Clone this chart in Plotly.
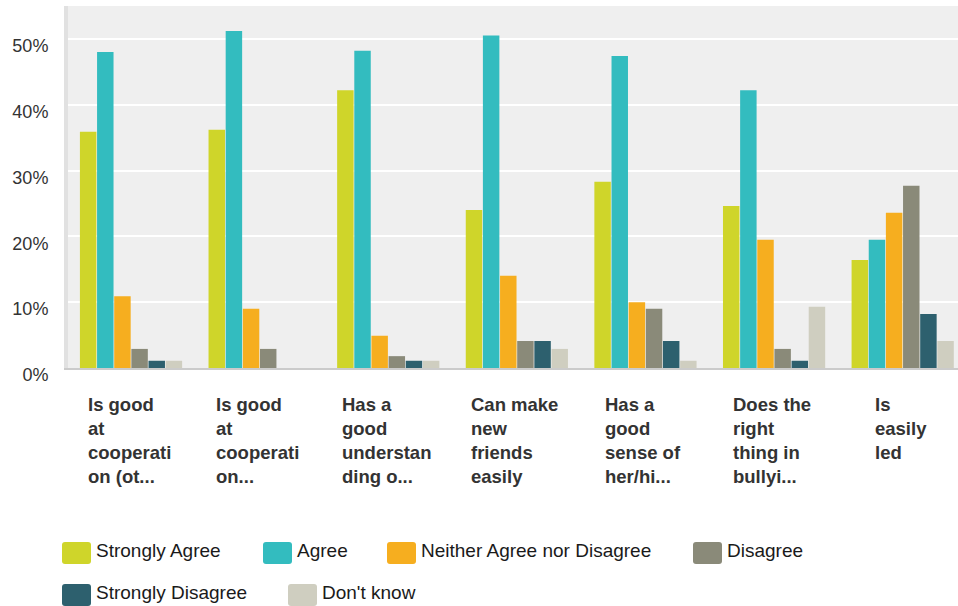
import plotly.graph_objects as go

# ---------------- data ----------------
categories = [
    "Is good at cooperation (ot...",
    "Is good at cooperation...",
    "Has a good understanding o...",
    "Can make new friends easily",
    "Has a good sense of her/hi...",
    "Does the right thing in bullyi...",
    "Is easily led",
]
category_labels = [
    "Is good<br>at<br>cooperati<br>on (ot...",
    "Is good<br>at<br>cooperati<br>on...",
    "Has a<br>good<br>understan<br>ding o...",
    "Can make<br>new<br>friends<br>easily",
    "Has a<br>good<br>sense of<br>her/hi...",
    "Does the<br>right<br>thing in<br>bullyi...",
    "Is<br>easily<br>led",
]
series_names = ["Strongly Agree", "Agree", "Neither Agree nor Disagree",
                "Disagree", "Strongly Disagree", "Don't know"]
strongly_agree = [35.9, 36.2, 42.2, 24.0, 28.3, 24.6, 16.4]
agree = [48.0, 51.2, 48.2, 50.5, 47.4, 42.2, 19.5]
neither = [10.9, 9.0, 4.9, 14.0, 10.0, 19.5, 23.6]
disagree = [2.9, 2.9, 1.8, 4.1, 9.0, 2.9, 27.7]
strongly_disagree = [1.1, 0.0, 1.1, 4.1, 4.1, 1.1, 8.2]
dont_know = [1.1, 0.0, 1.1, 2.9, 1.1, 9.3, 4.1]
y_tick_values = [0, 10, 20, 30, 40, 50]
y_tick_labels = ["0%", "10%", "20%", "30%", "40%", "50%"]

# ---------------- styles ----------------
colors = ["#CFD52A", "#33BCBF", "#F6AE1F", "#8A8A79", "#2D606E", "#CFCEC0"]
FONT = "Liberation Sans, Arial, sans-serif"
W, H = 958, 606
ML, MR, MT, MB = 68, 0, 6, 238
PW, PH = W - ML - MR, H - MT - MB

series_values = [strongly_agree, agree, neither, disagree, strongly_disagree, dont_know]

fig = go.Figure()
for name, vals, col in zip(series_names, series_values, colors):
    fig.add_trace(go.Bar(
        x=categories, y=vals, name=name,
        marker=dict(color=col, line=dict(width=0)),
        showlegend=False,
        hovertemplate="%{x}<br>" + name + ": %{y}%<extra></extra>",
    ))

annotations = []
# category labels (multi-line, left aligned, centred under each group)
for cat, lab in zip(categories, category_labels):
    annotations.append(dict(
        x=cat, xref="x", y=0, yref="paper", yanchor="top", xanchor="center",
        yshift=-24, xshift=-2, align="left", showarrow=False, text=lab,
        font=dict(family=FONT, size=18.5, color="#333333", weight="bold"),
    ))

# custom legend (flowing layout like the reference)
def px_x(px):
    return (px - ML) / PW

def px_y(py):
    return (H - MB - py) / PH

legend_swatch_left = [62, 263, 387, 693, 62, 288]
legend_text_left = [96, 297, 421, 727, 96, 322]
legend_row_y = [553, 553, 553, 553, 595, 595]
sw_w, sw_h, r = 14.5, 11, 3
swatch_path = (
    f"M{-sw_w + r},{-sw_h} L{sw_w - r},{-sw_h} Q{sw_w},{-sw_h} {sw_w},{-sw_h + r} "
    f"L{sw_w},{sw_h - r} Q{sw_w},{sw_h} {sw_w - r},{sw_h} L{-sw_w + r},{sw_h} "
    f"Q{-sw_w},{sw_h} {-sw_w},{sw_h - r} L{-sw_w},{-sw_h + r} Q{-sw_w},{-sw_h} {-sw_w + r},{-sw_h} Z"
)
shapes = []
for name, col, sx, tx, ry in zip(series_names, colors, legend_swatch_left,
                                  legend_text_left, legend_row_y):
    shapes.append(dict(
        type="path", xref="paper", yref="paper",
        xsizemode="pixel", ysizemode="pixel",
        xanchor=px_x(sx + sw_w), yanchor=px_y(ry),
        path=swatch_path, fillcolor=col, line=dict(width=0),
    ))
    annotations.append(dict(
        x=px_x(tx - 2), y=px_y(ry - 2.5), xref="paper", yref="paper",
        xanchor="left", yanchor="middle", showarrow=False, text=name,
        font=dict(family=FONT, size=19, color="#1a1a1a"),
    ))

fig.update_layout(
    width=W, height=H, autosize=False,
    margin=dict(l=ML, r=MR, t=MT, b=MB, pad=0),
    paper_bgcolor="white", plot_bgcolor="#EFEFEF",
    barmode="group", bargap=0.2, bargroupgap=0.04,
    font=dict(family=FONT, color="#333333"),
    xaxis=dict(
        type="category", range=[-0.49, 6.43], showticklabels=False,
        showgrid=False, showline=True, linecolor="#CBCBCB", linewidth=2,
        ticks="", fixedrange=True,
    ),
    yaxis=dict(
        range=[0, 55], tickvals=y_tick_values, ticktext=y_tick_labels,
        showgrid=True, gridcolor="white", gridwidth=2, zeroline=False,
        showline=True, linecolor="#E1E1E1", linewidth=4, ticks="",
        ticklabelstandoff=12, ticklabelshift=7,
        tickfont=dict(family=FONT, size=18, color="#333333"),
        fixedrange=True,
    ),
    shapes=shapes,
    annotations=annotations,
)

fig.write_html("out.html")
